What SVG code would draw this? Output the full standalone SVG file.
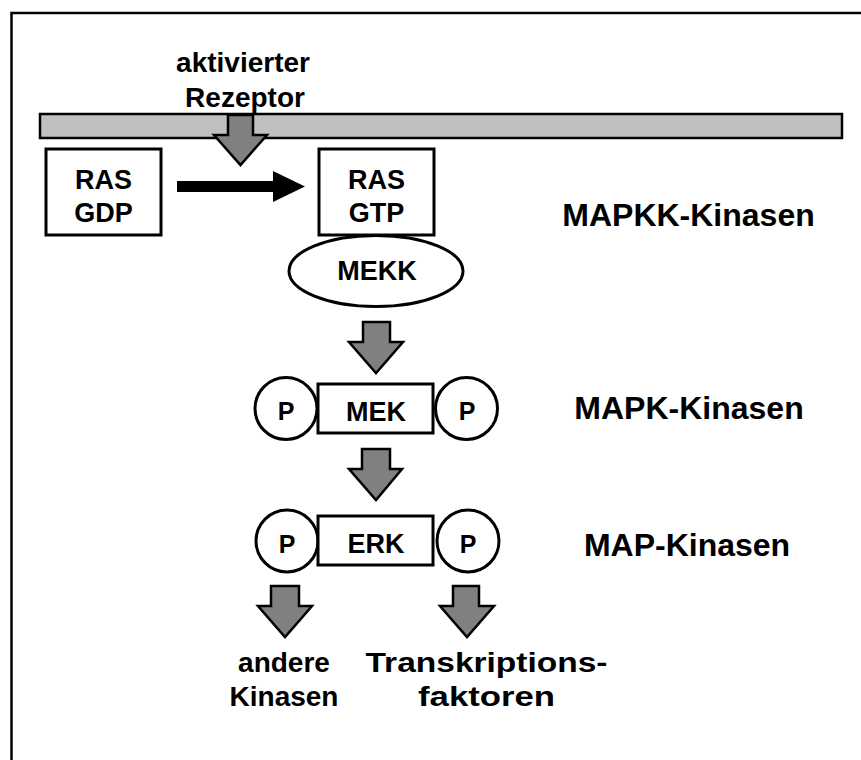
<svg xmlns="http://www.w3.org/2000/svg" width="861" height="760" viewBox="0 0 861 760">
<style>
text{font-family:"Liberation Sans",Arial,sans-serif;font-weight:bold;fill:#000;text-anchor:middle}
.n{font-size:27px}
.lab{font-size:28px}
.big{font-size:32px}
.box{fill:#fff;stroke:#000;stroke-width:3}
.arr{fill:#808080;stroke:#000;stroke-width:2.5;stroke-linejoin:miter}
</style>
<rect x="11.5" y="13" width="900" height="800" fill="#fff" stroke="#000" stroke-width="2.5"/>
<g id="membrane"><rect x="40" y="114" width="802" height="24" fill="#c0c0c0" stroke="#000" stroke-width="2.5"/></g>
<g id="label-receptor">
<text class="lab" x="243" y="72">aktivierter</text>
<text class="lab" x="245" y="107">Rezeptor</text>
</g>
<g id="connectors">
<path class="arr" d="M228,115 H253 V135 H267 L240.5,165 L214,135 H228 Z"/>
<path d="M177,181 H273 V171 L305,186.5 L273,202 V192 H177 Z" fill="#000"/>
<path class="arr" d="M363,322 H390 V342 H403 L376,373 L349,342 H363 Z"/>
<path class="arr" d="M362,449 H390 V469 H402 L376,500 L349,469 H362 Z"/>
<path class="arr" d="M271,586 H299 V606 H312 L285,637 L258,606 H271 Z"/>
<path class="arr" d="M453,586 H479 V606 H494 L467,637 L440,606 H453 Z"/>
</g>
<g id="ras-gdp">
<rect class="box" x="46" y="149" width="115" height="86"/>
<text class="n" x="103.5" y="189">RAS</text>
<text class="n" x="103.5" y="222">GDP</text>
</g>
<g id="ras-gtp">
<rect class="box" x="319" y="149" width="115" height="86"/>
<text class="n" x="376.5" y="189">RAS</text>
<text class="n" x="376.5" y="222">GTP</text>
</g>
<g id="mekk">
<ellipse class="box" cx="376" cy="271" rx="87" ry="35.5"/>
<text class="n" x="377" y="280">MEKK</text>
</g>
<g id="mek">
<circle class="box" cx="286" cy="408.5" r="31"/>
<text class="n" x="286" y="420" style="font-size:25px">P</text>
<rect class="box" x="318" y="384" width="115" height="49"/>
<text class="n" x="376" y="421">MEK</text>
<circle class="box" cx="466.5" cy="408.5" r="31"/>
<text class="n" x="467" y="420" style="font-size:25px">P</text>
</g>
<g id="erk">
<circle class="box" cx="287" cy="541" r="31"/>
<text class="n" x="287" y="553" style="font-size:25px">P</text>
<rect class="box" x="318" y="516" width="115" height="49"/>
<text class="n" x="376" y="553">ERK</text>
<circle class="box" cx="468" cy="541" r="31"/>
<text class="n" x="468" y="553" style="font-size:25px">P</text>
</g>
<g id="label-mapkk"><text class="big" x="688.5" y="226">MAPKK-Kinasen</text></g>
<g id="label-mapk"><text class="big" x="689" y="419">MAPK-Kinasen</text></g>
<g id="label-map"><text class="big" x="687" y="556">MAP-Kinasen</text></g>
<g id="label-andere">
<text class="lab" x="284" y="672">andere</text>
<text class="lab" x="284" y="706">Kinasen</text>
</g>
<g id="label-tf">
<text class="lab" x="486.5" y="672" textLength="242" lengthAdjust="spacingAndGlyphs">Transkriptions-</text>
<text class="lab" x="486.5" y="706" textLength="137" lengthAdjust="spacingAndGlyphs">faktoren</text>
</g>
</svg>
